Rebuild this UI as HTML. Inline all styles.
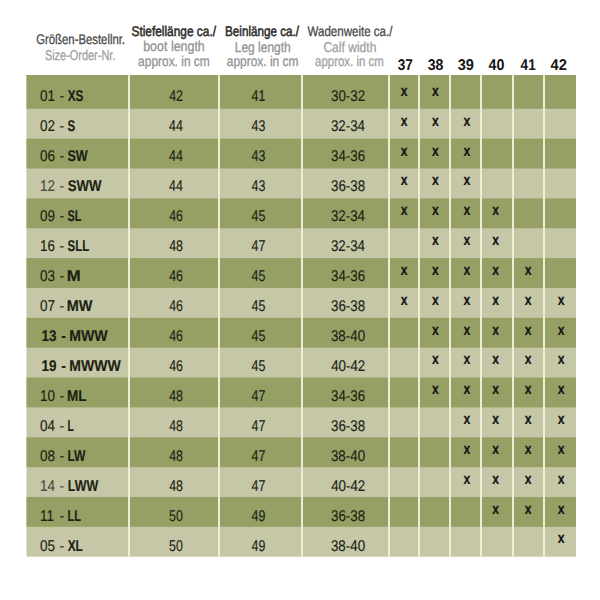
<!DOCTYPE html><html><head><meta charset="utf-8"><title>Größentabelle</title><style>html,body{margin:0;padding:0;background:#fff;overflow:hidden}
svg{display:block}
text{font-family:'Liberation Sans',Arial,sans-serif;text-rendering:geometricPrecision}
.hd{fill:#4a4a4a;stroke:#4a4a4a;stroke-width:0.3}.hb{fill:#2e2e2e}.hl{fill:#929292;stroke:#929292;stroke-width:0.3}.hl2{fill:#a2a2a2;stroke:#a2a2a2;stroke-width:0.3}.hn{fill:#151515}.sb{stroke:#2e2e2e;stroke-width:0.55}
.b text{fill:#1c1f14;stroke:#1c1f14;stroke-width:0.15}
.b text.g{fill:#4a4a44;stroke:#4a4a44}
.x text{fill:#141414;stroke:#141414;stroke-width:0.2}</style></head><body>
<svg width="600" height="600" viewBox="0 0 600 600">
<rect width="600" height="600" fill="#fff"/>
<rect x="26.50" y="75.00" width="549.50" height="481.70" fill="#c6c7a6"/>
<rect x="26.50" y="75.00" width="549.50" height="33.80" fill="#96a065"/>
<rect x="26.50" y="138.66" width="549.50" height="29.86" fill="#96a065"/>
<rect x="26.50" y="198.38" width="549.50" height="29.86" fill="#96a065"/>
<rect x="26.50" y="258.10" width="549.50" height="29.86" fill="#96a065"/>
<rect x="26.50" y="317.82" width="549.50" height="29.86" fill="#96a065"/>
<rect x="26.50" y="377.54" width="549.50" height="29.86" fill="#96a065"/>
<rect x="26.50" y="437.26" width="549.50" height="29.86" fill="#96a065"/>
<rect x="26.50" y="496.98" width="549.50" height="29.86" fill="#96a065"/>
<rect x="128" y="75.00" width="2" height="481.70" fill="#efedd6"/>
<rect x="218" y="75.00" width="2" height="481.70" fill="#efedd6"/>
<rect x="301" y="75.00" width="2" height="481.70" fill="#efedd6"/>
<rect x="388" y="75.00" width="2" height="481.70" fill="#efedd6"/>
<rect x="418" y="75.00" width="2" height="481.70" fill="#efedd6"/>
<rect x="449" y="75.00" width="2" height="481.70" fill="#efedd6"/>
<rect x="480" y="75.00" width="2" height="481.70" fill="#efedd6"/>
<rect x="512" y="75.00" width="2" height="481.70" fill="#efedd6"/>
<rect x="543" y="75.00" width="2" height="481.70" fill="#efedd6"/>
<text class="hd" transform="matrix(0.8093 0 0 1 36.23 44.00)" font-size="14.00">Größen-Bestellnr.</text>
<text class="hl2" transform="matrix(0.7648 0 0 1 44.90 59.50)" font-size="14.30">Size-Order-Nr.</text>
<text class="hb sb" transform="matrix(0.8487 0 0 1 131.45 35.60)" font-size="14.00">Stiefellänge ca./</text>
<text class="hl" transform="matrix(0.8707 0 0 1 143.19 50.90)" font-size="14.30">boot length</text>
<text class="hl" transform="matrix(0.8353 0 0 1 138.10 66.10)" font-size="14.30">approx. in cm</text>
<text class="hb sb" transform="matrix(0.8335 0 0 1 225.04 35.70)" font-size="14.00">Beinlänge ca./</text>
<text class="hl" transform="matrix(0.8393 0 0 1 234.72 51.60)" font-size="14.30">Leg length</text>
<text class="hl" transform="matrix(0.8353 0 0 1 226.80 66.10)" font-size="14.30">approx. in cm</text>
<text class="hd" transform="matrix(0.8240 0 0 1 307.54 36.00)" font-size="14.00">Wadenweite ca./</text>
<text class="hl2" transform="matrix(0.8443 0 0 1 323.38 51.80)" font-size="14.30">Calf width</text>
<text class="hl2" transform="matrix(0.7997 0 0 1 315.12 66.10)" font-size="14.30">approx. in cm</text>
<text class="hn" transform="matrix(0.8711 0 0 1 397.69 70.20)" font-size="15.60" font-weight="700">37</text>
<text class="hn" transform="matrix(0.9088 0 0 1 427.67 70.20)" font-size="15.60" font-weight="700">38</text>
<text class="hn" transform="matrix(0.9323 0 0 1 457.67 70.20)" font-size="15.60" font-weight="700">39</text>
<text class="hn" transform="matrix(0.9105 0 0 1 488.49 70.20)" font-size="15.60" font-weight="700">40</text>
<text class="hn" transform="matrix(0.8695 0 0 1 520.60 70.20)" font-size="15.60" font-weight="700">41</text>
<text class="hn" transform="matrix(0.9400 0 0 1 550.58 70.20)" font-size="15.60" font-weight="700">42</text>
<g class="b">
<text transform="matrix(0.8700 0 0 1 40.00 100.50)" font-size="15.50">01</text>
<text transform="matrix(0.9000 0 0 1 59.38 100.50)" font-size="15.50">-</text>
<text transform="matrix(0.7626 0 0 1 67.69 100.50)" font-size="15.50" font-weight="700">XS</text>
<text transform="matrix(0.8000 0 0 1 169.17 100.50)" font-size="15.50">42</text>
<text transform="matrix(0.8000 0 0 1 251.57 100.50)" font-size="15.50">41</text>
<text transform="matrix(0.8600 0 0 1 331.04 100.50)" font-size="15.50">30-32</text>
<text transform="matrix(0.8700 0 0 1 40.00 130.50)" font-size="15.50">02</text>
<text transform="matrix(0.9000 0 0 1 59.38 130.50)" font-size="15.50">-</text>
<text transform="matrix(0.7432 0 0 1 67.47 130.50)" font-size="15.50" font-weight="700">S</text>
<text transform="matrix(0.8000 0 0 1 169.04 130.50)" font-size="15.50">44</text>
<text transform="matrix(0.8000 0 0 1 251.54 130.50)" font-size="15.50">43</text>
<text transform="matrix(0.8600 0 0 1 330.90 130.50)" font-size="15.50">32-34</text>
<text transform="matrix(0.8700 0 0 1 40.00 160.50)" font-size="15.50">06</text>
<text transform="matrix(0.9000 0 0 1 59.38 160.50)" font-size="15.50">-</text>
<text transform="matrix(0.8121 0 0 1 67.43 160.50)" font-size="15.50" font-weight="700">SW</text>
<text transform="matrix(0.8000 0 0 1 169.04 160.50)" font-size="15.50">44</text>
<text transform="matrix(0.8000 0 0 1 251.54 160.50)" font-size="15.50">43</text>
<text transform="matrix(0.8600 0 0 1 331.00 160.50)" font-size="15.50">34-36</text>
<text class="g" transform="matrix(0.8700 0 0 1 40.00 190.50)" font-size="15.50">12</text>
<text class="g" transform="matrix(0.9000 0 0 1 59.38 190.50)" font-size="15.50">-</text>
<text transform="matrix(0.8508 0 0 1 67.82 190.50)" font-size="15.50" font-weight="700">SWW</text>
<text transform="matrix(0.8000 0 0 1 169.04 190.50)" font-size="15.50">44</text>
<text transform="matrix(0.8000 0 0 1 251.54 190.50)" font-size="15.50">43</text>
<text transform="matrix(0.8600 0 0 1 330.99 190.50)" font-size="15.50">36-38</text>
<text transform="matrix(0.8700 0 0 1 40.00 220.50)" font-size="15.50">09</text>
<text transform="matrix(0.9000 0 0 1 59.38 220.50)" font-size="15.50">-</text>
<text transform="matrix(0.6992 0 0 1 67.49 220.50)" font-size="15.50" font-weight="700">SL</text>
<text transform="matrix(0.8000 0 0 1 169.14 220.50)" font-size="15.50">46</text>
<text transform="matrix(0.8000 0 0 1 251.52 220.50)" font-size="15.50">45</text>
<text transform="matrix(0.8600 0 0 1 330.90 220.50)" font-size="15.50">32-34</text>
<text transform="matrix(0.8700 0 0 1 40.00 250.50)" font-size="15.50">16</text>
<text transform="matrix(0.9000 0 0 1 59.38 250.50)" font-size="15.50">-</text>
<text transform="matrix(0.7408 0 0 1 67.47 250.50)" font-size="15.50" font-weight="700">SLL</text>
<text transform="matrix(0.8000 0 0 1 169.13 250.50)" font-size="15.50">48</text>
<text transform="matrix(0.8000 0 0 1 251.57 250.50)" font-size="15.50">47</text>
<text transform="matrix(0.8600 0 0 1 330.90 250.50)" font-size="15.50">32-34</text>
<text transform="matrix(0.8700 0 0 1 40.00 280.50)" font-size="15.50">03</text>
<text transform="matrix(0.9000 0 0 1 59.38 280.50)" font-size="15.50">-</text>
<text transform="matrix(1.0799 0 0 1 66.68 280.50)" font-size="15.50" font-weight="700">M</text>
<text transform="matrix(0.8000 0 0 1 169.14 280.50)" font-size="15.50">46</text>
<text transform="matrix(0.8000 0 0 1 251.52 280.50)" font-size="15.50">45</text>
<text transform="matrix(0.8600 0 0 1 331.00 280.50)" font-size="15.50">34-36</text>
<text transform="matrix(0.8700 0 0 1 40.00 310.50)" font-size="15.50">07</text>
<text transform="matrix(0.9000 0 0 1 59.38 310.50)" font-size="15.50">-</text>
<text transform="matrix(0.9324 0 0 1 66.83 310.50)" font-size="15.50" font-weight="700">MW</text>
<text transform="matrix(0.8000 0 0 1 169.14 310.50)" font-size="15.50">46</text>
<text transform="matrix(0.8000 0 0 1 251.52 310.50)" font-size="15.50">45</text>
<text transform="matrix(0.8600 0 0 1 330.99 310.50)" font-size="15.50">36-38</text>
<text transform="matrix(0.8700 0 0 1 41.60 340.50)" font-size="15.50" font-weight="700">13</text>
<text transform="matrix(0.9000 0 0 1 61.18 340.50)" font-size="15.50" font-weight="700">-</text>
<text transform="matrix(0.9119 0 0 1 69.25 340.50)" font-size="15.50" font-weight="700">MWW</text>
<text transform="matrix(0.8000 0 0 1 169.14 340.50)" font-size="15.50">46</text>
<text transform="matrix(0.8000 0 0 1 251.52 340.50)" font-size="15.50">45</text>
<text transform="matrix(0.8600 0 0 1 330.96 340.50)" font-size="15.50">38-40</text>
<text transform="matrix(0.8700 0 0 1 41.60 370.50)" font-size="15.50" font-weight="700">19</text>
<text transform="matrix(0.9000 0 0 1 61.18 370.50)" font-size="15.50" font-weight="700">-</text>
<text transform="matrix(0.9058 0 0 1 69.26 370.50)" font-size="15.50" font-weight="700">MWWW</text>
<text transform="matrix(0.8000 0 0 1 169.14 370.50)" font-size="15.50">46</text>
<text transform="matrix(0.8000 0 0 1 251.52 370.50)" font-size="15.50">45</text>
<text transform="matrix(0.8600 0 0 1 331.14 370.50)" font-size="15.50">40-42</text>
<text transform="matrix(0.8700 0 0 1 40.00 400.50)" font-size="15.50">10</text>
<text transform="matrix(0.9000 0 0 1 59.38 400.50)" font-size="15.50">-</text>
<text transform="matrix(0.8724 0 0 1 66.89 400.50)" font-size="15.50" font-weight="700">ML</text>
<text transform="matrix(0.8000 0 0 1 169.13 400.50)" font-size="15.50">48</text>
<text transform="matrix(0.8000 0 0 1 251.57 400.50)" font-size="15.50">47</text>
<text transform="matrix(0.8600 0 0 1 331.00 400.50)" font-size="15.50">34-36</text>
<text transform="matrix(0.8700 0 0 1 40.00 430.50)" font-size="15.50">04</text>
<text transform="matrix(0.9000 0 0 1 59.38 430.50)" font-size="15.50">-</text>
<text transform="matrix(0.6665 0 0 1 67.51 430.50)" font-size="15.50" font-weight="700">L</text>
<text transform="matrix(0.8000 0 0 1 169.13 430.50)" font-size="15.50">48</text>
<text transform="matrix(0.8000 0 0 1 251.57 430.50)" font-size="15.50">47</text>
<text transform="matrix(0.8600 0 0 1 330.99 430.50)" font-size="15.50">36-38</text>
<text transform="matrix(0.8700 0 0 1 40.00 460.50)" font-size="15.50">08</text>
<text transform="matrix(0.9000 0 0 1 59.38 460.50)" font-size="15.50">-</text>
<text transform="matrix(0.7794 0 0 1 67.39 460.50)" font-size="15.50" font-weight="700">LW</text>
<text transform="matrix(0.8000 0 0 1 169.13 460.50)" font-size="15.50">48</text>
<text transform="matrix(0.8000 0 0 1 251.57 460.50)" font-size="15.50">47</text>
<text transform="matrix(0.8600 0 0 1 330.96 460.50)" font-size="15.50">38-40</text>
<text class="g" transform="matrix(0.8700 0 0 1 40.00 490.50)" font-size="15.50">14</text>
<text class="g" transform="matrix(0.9000 0 0 1 59.38 490.50)" font-size="15.50">-</text>
<text transform="matrix(0.8010 0 0 1 67.87 490.50)" font-size="15.50" font-weight="700">LWW</text>
<text transform="matrix(0.8000 0 0 1 169.13 490.50)" font-size="15.50">48</text>
<text transform="matrix(0.8000 0 0 1 251.57 490.50)" font-size="15.50">47</text>
<text transform="matrix(0.8600 0 0 1 331.14 490.50)" font-size="15.50">40-42</text>
<text transform="matrix(0.8700 0 0 1 40.00 520.50)" font-size="15.50">11</text>
<text transform="matrix(0.9000 0 0 1 59.38 520.50)" font-size="15.50">-</text>
<text transform="matrix(0.7175 0 0 1 67.45 520.50)" font-size="15.50" font-weight="700">LL</text>
<text transform="matrix(0.8000 0 0 1 169.00 520.50)" font-size="15.50">50</text>
<text transform="matrix(0.8000 0 0 1 251.55 520.50)" font-size="15.50">49</text>
<text transform="matrix(0.8600 0 0 1 330.99 520.50)" font-size="15.50">36-38</text>
<text transform="matrix(0.8700 0 0 1 40.00 550.50)" font-size="15.50">05</text>
<text transform="matrix(0.9000 0 0 1 59.38 550.50)" font-size="15.50">-</text>
<text transform="matrix(0.7661 0 0 1 67.69 550.50)" font-size="15.50" font-weight="700">XL</text>
<text transform="matrix(0.8000 0 0 1 169.00 550.50)" font-size="15.50">50</text>
<text transform="matrix(0.8000 0 0 1 251.55 550.50)" font-size="15.50">49</text>
<text transform="matrix(0.8600 0 0 1 330.96 550.50)" font-size="15.50">38-40</text>
</g><g class="x">
<text transform="matrix(0.8000 0 0 1 400.63 96.00)" font-size="15.20" font-weight="700">x</text>
<text transform="matrix(0.8000 0 0 1 432.03 96.00)" font-size="15.20" font-weight="700">x</text>
<text transform="matrix(0.8000 0 0 1 400.63 125.83)" font-size="15.20" font-weight="700">x</text>
<text transform="matrix(0.8000 0 0 1 432.03 125.83)" font-size="15.20" font-weight="700">x</text>
<text transform="matrix(0.8000 0 0 1 463.53 125.83)" font-size="15.20" font-weight="700">x</text>
<text transform="matrix(0.8000 0 0 1 400.63 155.66)" font-size="15.20" font-weight="700">x</text>
<text transform="matrix(0.8000 0 0 1 432.03 155.66)" font-size="15.20" font-weight="700">x</text>
<text transform="matrix(0.8000 0 0 1 463.53 155.66)" font-size="15.20" font-weight="700">x</text>
<text transform="matrix(0.8000 0 0 1 400.63 185.49)" font-size="15.20" font-weight="700">x</text>
<text transform="matrix(0.8000 0 0 1 432.03 185.49)" font-size="15.20" font-weight="700">x</text>
<text transform="matrix(0.8000 0 0 1 463.53 185.49)" font-size="15.20" font-weight="700">x</text>
<text transform="matrix(0.8000 0 0 1 400.63 215.32)" font-size="15.20" font-weight="700">x</text>
<text transform="matrix(0.8000 0 0 1 432.03 215.32)" font-size="15.20" font-weight="700">x</text>
<text transform="matrix(0.8000 0 0 1 463.53 215.32)" font-size="15.20" font-weight="700">x</text>
<text transform="matrix(0.8000 0 0 1 492.23 215.32)" font-size="15.20" font-weight="700">x</text>
<text transform="matrix(0.8000 0 0 1 432.03 245.15)" font-size="15.20" font-weight="700">x</text>
<text transform="matrix(0.8000 0 0 1 463.53 245.15)" font-size="15.20" font-weight="700">x</text>
<text transform="matrix(0.8000 0 0 1 492.23 245.15)" font-size="15.20" font-weight="700">x</text>
<text transform="matrix(0.8000 0 0 1 400.63 274.98)" font-size="15.20" font-weight="700">x</text>
<text transform="matrix(0.8000 0 0 1 432.03 274.98)" font-size="15.20" font-weight="700">x</text>
<text transform="matrix(0.8000 0 0 1 463.53 274.98)" font-size="15.20" font-weight="700">x</text>
<text transform="matrix(0.8000 0 0 1 492.23 274.98)" font-size="15.20" font-weight="700">x</text>
<text transform="matrix(0.8000 0 0 1 524.83 274.98)" font-size="15.20" font-weight="700">x</text>
<text transform="matrix(0.8000 0 0 1 400.63 304.81)" font-size="15.20" font-weight="700">x</text>
<text transform="matrix(0.8000 0 0 1 432.03 304.81)" font-size="15.20" font-weight="700">x</text>
<text transform="matrix(0.8000 0 0 1 463.53 304.81)" font-size="15.20" font-weight="700">x</text>
<text transform="matrix(0.8000 0 0 1 492.23 304.81)" font-size="15.20" font-weight="700">x</text>
<text transform="matrix(0.8000 0 0 1 524.83 304.81)" font-size="15.20" font-weight="700">x</text>
<text transform="matrix(0.8000 0 0 1 557.73 304.81)" font-size="15.20" font-weight="700">x</text>
<text transform="matrix(0.8000 0 0 1 432.03 334.64)" font-size="15.20" font-weight="700">x</text>
<text transform="matrix(0.8000 0 0 1 463.53 334.64)" font-size="15.20" font-weight="700">x</text>
<text transform="matrix(0.8000 0 0 1 492.23 334.64)" font-size="15.20" font-weight="700">x</text>
<text transform="matrix(0.8000 0 0 1 524.83 334.64)" font-size="15.20" font-weight="700">x</text>
<text transform="matrix(0.8000 0 0 1 557.73 334.64)" font-size="15.20" font-weight="700">x</text>
<text transform="matrix(0.8000 0 0 1 432.03 364.47)" font-size="15.20" font-weight="700">x</text>
<text transform="matrix(0.8000 0 0 1 463.53 364.47)" font-size="15.20" font-weight="700">x</text>
<text transform="matrix(0.8000 0 0 1 492.23 364.47)" font-size="15.20" font-weight="700">x</text>
<text transform="matrix(0.8000 0 0 1 524.83 364.47)" font-size="15.20" font-weight="700">x</text>
<text transform="matrix(0.8000 0 0 1 557.73 364.47)" font-size="15.20" font-weight="700">x</text>
<text transform="matrix(0.8000 0 0 1 432.03 394.30)" font-size="15.20" font-weight="700">x</text>
<text transform="matrix(0.8000 0 0 1 463.53 394.30)" font-size="15.20" font-weight="700">x</text>
<text transform="matrix(0.8000 0 0 1 492.23 394.30)" font-size="15.20" font-weight="700">x</text>
<text transform="matrix(0.8000 0 0 1 524.83 394.30)" font-size="15.20" font-weight="700">x</text>
<text transform="matrix(0.8000 0 0 1 557.73 394.30)" font-size="15.20" font-weight="700">x</text>
<text transform="matrix(0.8000 0 0 1 463.53 424.13)" font-size="15.20" font-weight="700">x</text>
<text transform="matrix(0.8000 0 0 1 492.23 424.13)" font-size="15.20" font-weight="700">x</text>
<text transform="matrix(0.8000 0 0 1 524.83 424.13)" font-size="15.20" font-weight="700">x</text>
<text transform="matrix(0.8000 0 0 1 557.73 424.13)" font-size="15.20" font-weight="700">x</text>
<text transform="matrix(0.8000 0 0 1 463.53 453.96)" font-size="15.20" font-weight="700">x</text>
<text transform="matrix(0.8000 0 0 1 492.23 453.96)" font-size="15.20" font-weight="700">x</text>
<text transform="matrix(0.8000 0 0 1 524.83 453.96)" font-size="15.20" font-weight="700">x</text>
<text transform="matrix(0.8000 0 0 1 557.73 453.96)" font-size="15.20" font-weight="700">x</text>
<text transform="matrix(0.8000 0 0 1 463.53 483.79)" font-size="15.20" font-weight="700">x</text>
<text transform="matrix(0.8000 0 0 1 492.23 483.79)" font-size="15.20" font-weight="700">x</text>
<text transform="matrix(0.8000 0 0 1 524.83 483.79)" font-size="15.20" font-weight="700">x</text>
<text transform="matrix(0.8000 0 0 1 557.73 483.79)" font-size="15.20" font-weight="700">x</text>
<text transform="matrix(0.8000 0 0 1 492.23 513.62)" font-size="15.20" font-weight="700">x</text>
<text transform="matrix(0.8000 0 0 1 524.83 513.62)" font-size="15.20" font-weight="700">x</text>
<text transform="matrix(0.8000 0 0 1 557.73 513.62)" font-size="15.20" font-weight="700">x</text>
<text transform="matrix(0.8000 0 0 1 557.73 543.45)" font-size="15.20" font-weight="700">x</text>
</g></svg></body></html>
